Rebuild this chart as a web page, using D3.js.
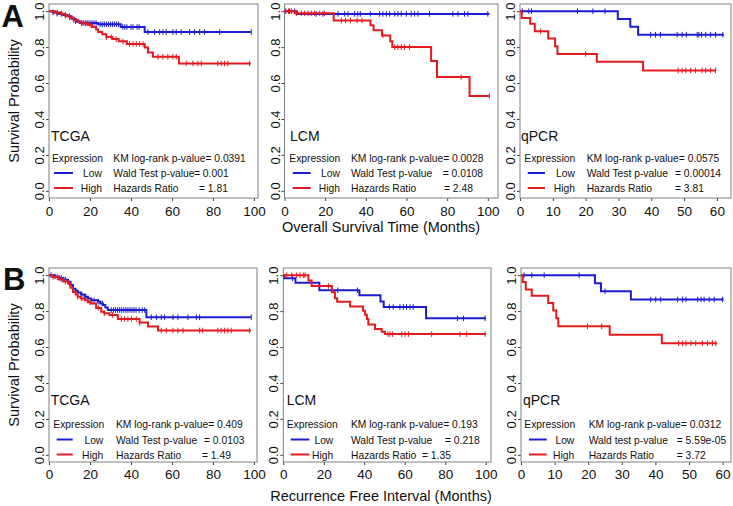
<!DOCTYPE html>
<html><head><meta charset="utf-8">
<script src="https://cdn.jsdelivr.net/npm/d3@7"></script>
<style>body{margin:0;background:#fff}svg{display:block}text{font-family:"Liberation Sans",Arial,Helvetica,sans-serif;fill:#111}</style>
</head><body><svg id="c" width="733" height="506"></svg>
<script>
// ---------- DATA ----------
const cohorts = ["TCGA", "LCM", "qPCR", "TCGA", "LCM", "qPCR"];
const kmP = ["0.0391", "0.0028", "0.0575", "0.409", "0.193", "0.0312"];
const waldLabel = ["Wald Test p-value", "Wald Test p-value", "Wald Test p-value", "Wald Test p-value", "Wald Test p-value", "Wald test p-value"];
const waldP = ["0.001", "0.0108", "0.00014", "0.0103", "0.218", "5.59e-05"];
const hazard = ["1.81", "2.48", "3.81", "1.49", "1.35", "3.72"];
const xTicks100 = [0, 20, 40, 60, 80, 100];
const xTicks60 = [0, 10, 20, 30, 40, 50, 60];
const yTicks = [0, 0.2, 0.4, 0.6, 0.8, 1.0];

// A1 TCGA overall survival
const a1LowT = [0, 2, 4, 7, 9, 11, 13, 15, 24, 35, 46.7, 98.5];
const a1LowS = [1, 0.993, 0.986, 0.979, 0.972, 0.958, 0.944, 0.934, 0.927, 0.912, 0.884, 0.884];
const a1LowC = [2, 4, 6, 8, 10, 13, 16, 17, 18, 19, 20, 21, 22, 23, 25, 26, 27, 28, 29, 30, 31, 32, 33, 34, 36, 37, 38, 40, 41, 43, 44, 48.3, 51.5, 54, 55.6, 57.2, 60.5, 62.1, 64.5, 68.6, 71, 73.5, 75.9, 83.3, 98.7];
const a1HighT = [0, 3, 6, 8, 10, 12, 14, 16, 19, 21, 23, 24, 26, 28, 31, 34, 38, 46.7, 48.3, 50.7, 63.4, 98.5];
const a1HighS = [1, 0.993, 0.985, 0.975, 0.965, 0.952, 0.94, 0.932, 0.925, 0.912, 0.898, 0.884, 0.872, 0.856, 0.845, 0.832, 0.818, 0.798, 0.77, 0.746, 0.709, 0.709];
const a1HighC = [4, 6, 8, 10, 12, 16, 18, 20, 28, 30.4, 32.8, 36.1, 39.3, 41, 42.6, 44.2, 45.9, 53.2, 55.6, 58, 60.5, 62.1, 67, 70.2, 72.7, 74.3, 82.4, 84.1, 85.7, 87.3, 97.9];

// A2 LCM overall survival
const a2LowT = [0, 6.1, 100.8];
const a2LowS = [1, 0.985, 0.985];
const a2LowC = [0.6, 2.5, 5, 15.6, 18.9, 26.3, 29.6, 31.2, 34.5, 36.1, 37.3, 42.2, 46.8, 48.4, 50.1, 51.7, 54.2, 55.8, 57.4, 59.9, 62.3, 64, 65.6, 71.3, 82.8, 85.3, 88.5, 90.2, 100];
const a2HighT = [0, 5, 24.2, 42.3, 43.8, 47.9, 52, 53, 72.1, 75, 91, 100.8];
const a2HighS = [1, 0.988, 0.948, 0.922, 0.894, 0.865, 0.833, 0.8, 0.722, 0.633, 0.528, 0.528];
const a2HighC = [2, 3.4, 5.8, 8.3, 9.9, 11.6, 13.2, 14.8, 17.3, 19.7, 28, 30, 32.4, 35.7, 38.1, 48.4, 54.2, 55.8, 57.4, 59, 61.5, 86.9, 100.8];

// A3 qPCR overall survival
const a3LowT = [0, 29.8, 33.6, 36, 62.1];
const a3LowS = [1, 0.957, 0.913, 0.869, 0.869];
const a3LowC = [0.7, 2.7, 3.5, 17.5, 22.2, 25.9, 39.8, 41.3, 42.8, 47.9, 49.4, 50.7, 54, 54.5, 55.3, 56.6, 58.1, 59.6, 61.8];
const a3HighT = [0, 0.5, 3.1, 4.5, 8.6, 10.7, 11.4, 23.4, 37.5, 59.8];
const a3HighS = [1, 0.962, 0.93, 0.888, 0.848, 0.805, 0.762, 0.719, 0.67, 0.67];
const a3HighC = [6.3, 20, 48.2, 49.4, 50.5, 52, 53.5, 55.5, 56.6, 58.1, 59.6];

// B1 TCGA recurrence free interval
const b1LowT = [0, 2.5, 4.5, 7, 9.3, 10.5, 11.7, 13, 14, 15.5, 17.4, 19, 20.6, 23.9, 25, 26.3, 27.5, 28.7, 47.5, 98.5];
const b1LowS = [1, 0.993, 0.985, 0.975, 0.963, 0.945, 0.925, 0.913, 0.903, 0.892, 0.88, 0.87, 0.86, 0.853, 0.843, 0.834, 0.82, 0.806, 0.766, 0.766];
const b1LowC = [1, 3, 5, 6, 8, 12, 16, 18, 22, 24, 26, 30.4, 31.5, 32.5, 33.5, 34.5, 35.5, 36.5, 37.5, 38.5, 39.5, 40.5, 41.5, 42.5, 44, 45.5, 46.7, 49.9, 52.4, 54.8, 56.4, 60.5, 62.9, 67.8, 71.9, 73.5, 98.7];
const b1HighT = [0, 2, 4.5, 7, 9.3, 10.5, 11.7, 13, 14, 15.5, 17.4, 19, 20.6, 23, 25.5, 27, 29.5, 33.6, 44.2, 48.3, 53.2, 98.5];
const b1HighS = [1, 0.99, 0.977, 0.965, 0.953, 0.93, 0.907, 0.893, 0.88, 0.87, 0.86, 0.85, 0.842, 0.818, 0.797, 0.788, 0.778, 0.756, 0.736, 0.714, 0.692, 0.692];
const b1HighC = [2, 4, 6, 8, 10, 14, 16, 20, 24, 27, 31, 35.3, 36.9, 38.5, 40.2, 42.6, 44.2, 54.8, 57.2, 60.5, 62.9, 65.4, 73.5, 75, 82.4, 84, 85.7, 87.3, 88.9, 97.9];

// B2 LCM recurrence free interval
const b2LowT = [0, 0.5, 6, 17.8, 37.6, 48, 49.6, 70.5, 100];
const b2LowS = [1, 0.983, 0.958, 0.916, 0.888, 0.854, 0.823, 0.76, 0.76];
const b2LowC = [4.6, 26.9, 36.6, 52.4, 54.3, 57.6, 59.3, 60.9, 62.6, 64.2, 86, 89, 99.7];
const b2HighT = [0, 12.4, 14, 24, 25.5, 26.6, 33, 39.4, 40.4, 41.3, 42, 45.3, 48.6, 50.2, 100];
const b2HighS = [1, 0.97, 0.94, 0.905, 0.872, 0.852, 0.826, 0.802, 0.78, 0.756, 0.725, 0.7, 0.685, 0.672, 0.672];
const b2HighC = [1.7, 4.2, 6.6, 8.3, 9.9, 10.7, 22.3, 51.7, 52.7, 54, 58.5, 60.1, 61.8, 73.3, 87.3, 90.6, 99.7];

// B3 qPCR recurrence free interval
const b3LowT = [0, 22, 23.8, 32.7, 60.3];
const b3LowS = [1, 0.955, 0.91, 0.865, 0.865];
const b3LowC = [0.9, 3.2, 6.9, 17.3, 25, 38.6, 40.1, 41.6, 46.6, 48.1, 49.1, 52.6, 53.6, 54.5, 56, 57.5, 60];
const b3HighT = [0, 0.5, 1.4, 3.2, 8.1, 9.6, 10.5, 11.1, 26.4, 41.9, 58.3];
const b3HighS = [1, 0.962, 0.921, 0.886, 0.845, 0.804, 0.76, 0.716, 0.668, 0.621, 0.621];
const b3HighC = [19.8, 24, 46.9, 48.1, 49.1, 50.6, 52, 54, 55.5, 57, 58];

// ---------- LAYOUT ----------
const BLUE = "#1c1cd2", RED = "#e31b1f";
const rowA = {y0: 4, y1: 198, rows: [162, 177, 192], tickBase: 216, nameY: 140.7};
const rowB = {y0: 268, y1: 462, rows: [427.5, 443.5, 458.5], tickBase: 478.5, nameY: 404.5};
const panels = [
  {row: rowA, x0: 49, x1: 258, xmax: 102, ticks: xTicks100, low: [a1LowT, a1LowS, a1LowC], high: [a1HighT, a1HighS, a1HighC],
   nameX: 51, expX: 52, line: [54, 73], lowR: 102, kmX: 113.3, wEq: 194, hEq: 199},
  {row: rowA, x0: 284.5, x1: 498, xmax: 105, ticks: xTicks100, low: [a2LowT, a2LowS, a2LowC], high: [a2HighT, a2HighS, a2HighC],
   nameX: 290, expX: 289.3, line: [292.7, 310.7], lowR: 340, kmX: 351, wEq: 442.7, hEq: 444},
  {row: rowA, x0: 520, x1: 731, xmax: 64.3, ticks: xTicks60, low: [a3LowT, a3LowS, a3LowC], high: [a3HighT, a3HighS, a3HighC],
   nameX: 521, expX: 524.3, line: [527.7, 545], lowR: 575, kmX: 586.7, wEq: 675, hEq: 675},
  {row: rowB, x0: 49, x1: 257, xmax: 101.5, ticks: xTicks100, low: [b1LowT, b1LowS, b1LowC], high: [b1HighT, b1HighS, b1HighC],
   nameX: 50.7, expX: 53.3, line: [56.7, 72.7], lowR: 103.3, kmX: 116, wEq: 204, hEq: 202},
  {row: rowB, x0: 283.3, x1: 491, xmax: 102.6, ticks: xTicks100, low: [b2LowT, b2LowS, b2LowC], high: [b2HighT, b2HighS, b2HighC],
   nameX: 286.7, expX: 286.7, line: [290.7, 309.3], lowR: 333.3, kmX: 351, wEq: 445, hEq: 422},
  {row: rowB, x0: 521, x1: 731, xmax: 62.5, ticks: xTicks60, low: [b3LowT, b3LowS, b3LowC], high: [b3HighT, b3HighS, b3HighC],
   nameX: 523, expX: 524.3, line: [529, 546.7], lowR: 574.3, kmX: 588.7, wEq: 676.7, hEq: 676.7}
];

const svg = d3.select("#c");
svg.append("rect").attr("width", 733).attr("height", 506).attr("fill", "#fff");

function survAt(T, S, t) {
  let s = S[0];
  for (let i = 0; i < T.length; i++) { if (T[i] <= t) s = S[i]; }
  return s;
}

panels.forEach((p, i) => {
  const r = p.row;
  const x = d3.scaleLinear().domain([0, p.xmax]).range([p.x0, p.x1]);
  const y = d3.scaleLinear().domain([-0.04, 1.04]).range([r.y1, r.y0]);
  const g = svg.append("g");

  // x axis
  const gx = g.append("g").attr("transform", `translate(0,${r.y1})`)
    .call(d3.axisBottom(x).tickValues(p.ticks).tickSize(3).tickFormat(d3.format("d")));
  gx.select(".domain").remove();
  gx.selectAll(".tick line").attr("stroke", "#444");
  gx.selectAll(".tick text").attr("y", r.tickBase - r.y1).attr("dy", 0)
    .style("font-size", "13.5px").attr("fill", "#111").style("font-family", "Liberation Sans, Arial, sans-serif");

  // y axis
  const gy = g.append("g").attr("transform", `translate(${p.x0},0)`)
    .call(d3.axisLeft(y).tickValues(yTicks).tickSize(3).tickFormat(d3.format(".1f")));
  gy.select(".domain").remove();
  gy.selectAll(".tick line").attr("stroke", "#444");
  gy.selectAll(".tick text").attr("x", 0).attr("dy", 0).attr("text-anchor", "middle")
    .attr("transform", "translate(-5,0) rotate(-90)")
    .style("font-size", "13px").attr("fill", "#111").style("font-family", "Liberation Sans, Arial, sans-serif");

  // box
  g.append("rect").attr("x", p.x0).attr("y", r.y0).attr("width", p.x1 - p.x0).attr("height", r.y1 - r.y0)
    .attr("fill", "none").attr("stroke", "#808080").attr("stroke-width", 1);

  // curves
  const line = d3.line().x(d => x(d[0])).y(d => y(d[1])).curve(d3.curveStepAfter);
  [[p.low, BLUE], [p.high, RED]].forEach(([ser, col]) => {
    const [T, S, C] = ser;
    const pts = T.map((t, k) => [t, S[k]]);
    g.append("path").attr("d", line(pts)).attr("fill", "none").attr("stroke", col).attr("stroke-width", 2);
    g.selectAll(null).data(C).enter().append("line")
      .attr("x1", d => x(d)).attr("x2", d => x(d))
      .attr("y1", d => y(survAt(T, S, d)) - 2.8).attr("y2", d => y(survAt(T, S, d)) + 2.8)
      .attr("stroke", col).attr("stroke-width", 1);
  });

  // legend
  const fs = "10.3px";
  g.append("text").attr("x", p.nameX).attr("y", r.nameY).style("font-size", "14px").text(cohorts[i]);
  g.append("text").attr("x", p.expX).attr("y", r.rows[0]).style("font-size", fs).text("Expression");
  g.append("text").attr("x", p.lowR).attr("y", r.rows[1]).attr("text-anchor", "end").style("font-size", fs).text("Low");
  g.append("text").attr("x", p.lowR).attr("y", r.rows[2]).attr("text-anchor", "end").style("font-size", fs).text("High");
  g.append("line").attr("x1", p.line[0]).attr("x2", p.line[1]).attr("y1", r.rows[1] - 4).attr("y2", r.rows[1] - 4)
    .attr("stroke", BLUE).attr("stroke-width", 2);
  g.append("line").attr("x1", p.line[0]).attr("x2", p.line[1]).attr("y1", r.rows[2] - 4).attr("y2", r.rows[2] - 4)
    .attr("stroke", RED).attr("stroke-width", 2);
  g.append("text").attr("x", p.kmX).attr("y", r.rows[0]).style("font-size", fs).text("KM log-rank p-value= " + kmP[i]);
  g.append("text").attr("x", p.kmX).attr("y", r.rows[1]).style("font-size", fs).text(waldLabel[i]);
  g.append("text").attr("x", p.wEq).attr("y", r.rows[1]).style("font-size", fs).text("= " + waldP[i]);
  g.append("text").attr("x", p.kmX).attr("y", r.rows[2]).style("font-size", fs).text("Hazards Ratio");
  g.append("text").attr("x", p.hEq).attr("y", r.rows[2]).style("font-size", fs).text("= " + hazard[i]);
});

// axis titles & panel letters
svg.append("text").attr("transform", "translate(18.5,101) rotate(-90)").attr("text-anchor", "middle")
  .style("font-size", "14.5px").text("Survival Probability");
svg.append("text").attr("transform", "translate(18.5,365) rotate(-90)").attr("text-anchor", "middle")
  .style("font-size", "14.5px").text("Survival Probability");
svg.append("text").attr("x", 381).attr("y", 231.5).attr("text-anchor", "middle")
  .style("font-size", "14.5px").text("Overall Survival Time (Months)");
svg.append("text").attr("x", 381).attr("y", 500.5).attr("text-anchor", "middle")
  .style("font-size", "14.5px").text("Recurrence Free Interval (Months)");
svg.append("text").attr("x", 1.5).attr("y", 26.7).style("font-size", "31px").style("font-weight", "bold").text("A");
svg.append("text").attr("x", 3).attr("y", 290).style("font-size", "31px").style("font-weight", "bold").text("B");
</script></body></html>
